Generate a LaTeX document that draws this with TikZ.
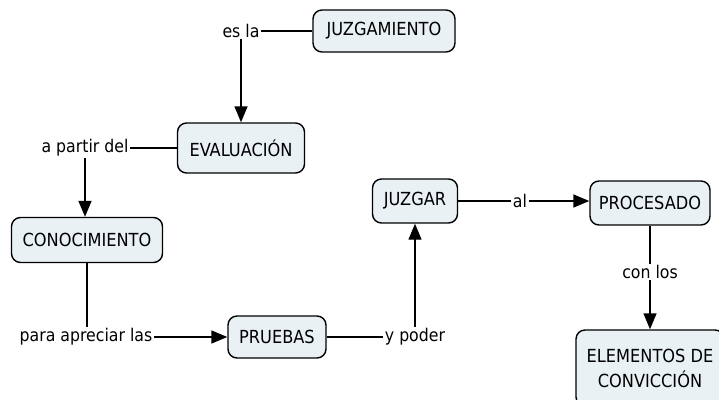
\documentclass[tikz,border=0pt]{standalone}
\usepackage{fontspec}
\setmainfont{DejaVu Sans Condensed}
\usetikzlibrary{arrows.meta}
\definecolor{boxfill}{HTML}{E9F1F4}
\begin{document}
\begin{tikzpicture}[x=1pt,y=-1pt,
  concept/.style={draw, line width=1.4pt, rounded corners=9pt, fill=boxfill, inner sep=2pt, align=center, font=\fontsize{18}{25}\selectfont},
  lbl/.style={inner sep=1.5pt, font=\fontsize{17.5}{20}\selectfont},
  conn/.style={line width=1.4pt},
  arr/.style={conn, -{Triangle[length=16pt,width=13pt]}}]
\useasboundingbox (0,0) rectangle (719,399);
\node[concept, minimum width=142pt, minimum height=42pt] (juzg) at (384,31) {JUZGAMIENTO};
\node[lbl] (esla) at (241,31) {es la};
\node[concept, minimum width=127pt, minimum height=50pt] (eval) at (241,148) {EVALUACIÓN};
\node[lbl] (apartir) at (85,148) {a partir del};
\node[concept, minimum width=151pt, minimum height=45pt] (conoc) at (87,240) {CONOCIMIENTO};
\node[lbl] (para) at (86,337) {para apreciar las};
\node[concept, minimum width=98pt, minimum height=42pt] (pruebas) at (277,337) {PRUEBAS};
\node[lbl] (ypoder) at (415,337) {y poder};
\node[concept, minimum width=85pt, minimum height=44pt] (juzgar) at (415,201) {JUZGAR};
\node[lbl] (al) at (520,201) {al};
\node[concept, minimum width=120pt, minimum height=44pt] (proc) at (650,203) {PROCESADO};
\node[lbl] (conlos) at (650,272) {con los};
\node[concept, minimum width=148pt, minimum height=76pt] (elem) at (650,368) {ELEMENTOS DE\\CONVICCIÓN};

\draw[conn] (juzg) -- (esla);
\draw[arr] (esla.south) -- (esla.south |- eval.north);
\draw[conn] (eval) -- (apartir);
\draw[arr] (apartir.south) -- (apartir.south |- conoc.north);
\draw[conn] (conoc) -- (conoc.south |- para.north);
\draw[arr] (para) -- (pruebas);
\draw[conn] (pruebas) -- (ypoder);
\draw[arr] (ypoder.north) -- (ypoder.north |- juzgar.south);
\draw[conn] (juzgar) -- (al);
\draw[arr] (al) -- (al -| proc.west);
\draw[conn] (proc) -- (proc.south |- conlos.north);
\draw[arr] (conlos.south) -- (conlos.south |- elem.north);
\end{tikzpicture}
\end{document}
